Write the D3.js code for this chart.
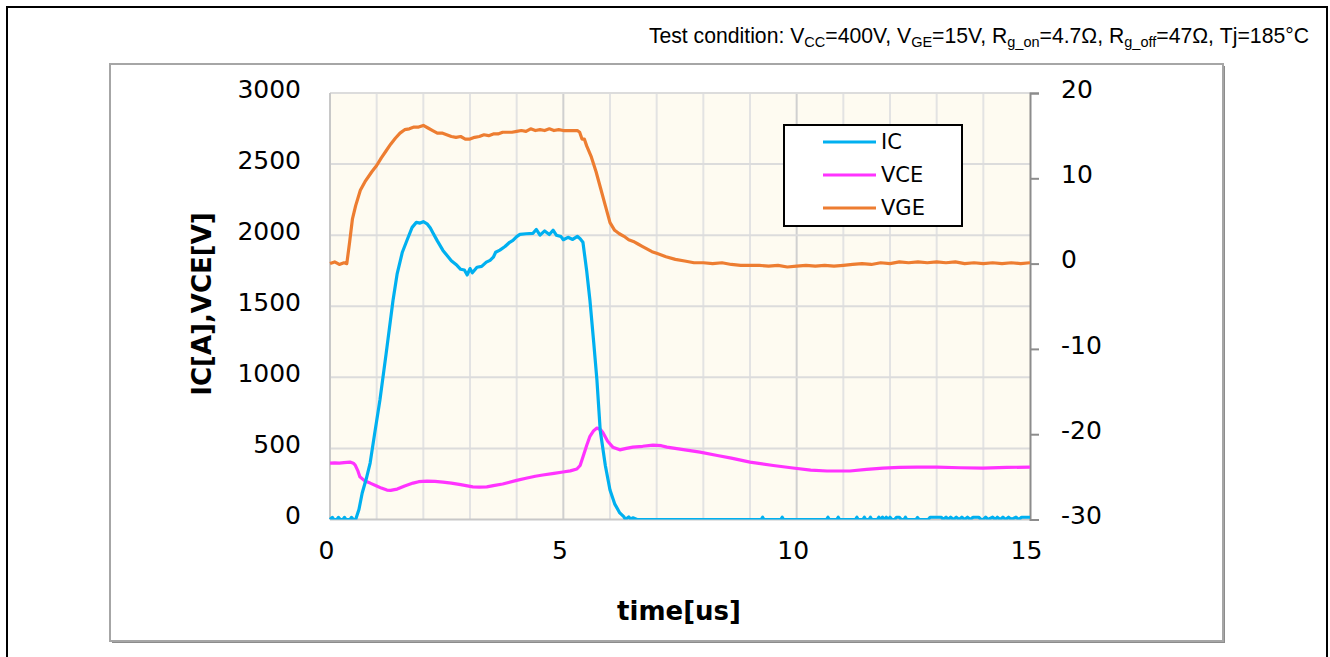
<!DOCTYPE html>
<html>
<head>
<meta charset="utf-8">
<script src="https://cdn.jsdelivr.net/npm/d3@7"></script>
<style>
  html, body { margin: 0; padding: 0; background: #fff; }
  svg { display: block; }
</style>
</head>
<body>
<svg id="chart" width="1330" height="657"></svg>
<script>
// ---------- data ----------
const xTicks = [0, 5, 10, 15];
const leftTicks = [0, 500, 1000, 1500, 2000, 2500, 3000];
const rightTicks = [-30, -20, -10, 0, 10, 20];
const seriesNames = ["IC", "VCE", "VGE"];

// IC [time us, A]
const icData = [
  [0,0],[0.05,15],[0.08,0],[0.15,0],[0.18,15],[0.22,0],[0.28,0],[0.31,15],[0.34,0],[0.43,0],[0.46,15],[0.5,0],[0.55,0],
  [0.62,70],[0.69,186],[0.78,290],[0.86,397],[0.95,590],[1.07,840],[1.2,1160],[1.35,1540],[1.44,1730],[1.55,1880],
  [1.65,1964],[1.76,2055],[1.85,2090],[1.93,2085],[2.0,2095],[2.08,2080],[2.15,2050],[2.21,2013],[2.3,1960],
  [2.42,1893],[2.5,1860],[2.6,1820],[2.72,1788],[2.8,1760],[2.88,1755],[2.94,1720],[3.0,1765],[3.05,1735],
  [3.15,1774],[3.25,1780],[3.35,1810],[3.43,1823],[3.5,1845],[3.55,1880],[3.64,1895],[3.75,1920],[3.85,1950],
  [3.92,1964],[4.0,1990],[4.07,2006],[4.2,2010],[4.35,2013],[4.42,2040],[4.5,2000],[4.6,2030],[4.7,2005],
  [4.78,2035],[4.85,2000],[4.95,1990],[5.0,1968],[5.1,1985],[5.2,1970],[5.3,1992],[5.36,1975],[5.42,1950],
  [5.5,1750],[5.57,1542],[5.65,1250],[5.72,980],[5.79,628],[5.9,380],[6.0,207],[6.1,110],[6.21,46],[6.3,18],
  [6.33,0],[6.4,18],[6.45,0],[6.49,12],[6.58,0],
  [9.24,0],[9.27,16],[9.3,0],[9.66,0],[9.69,16],[9.72,0],[10.64,0],[10.67,16],[10.7,0],[10.86,0],[10.89,16],[10.92,0],
  [11.26,0],[11.29,16],[11.32,0],[11.42,0],[11.45,16],[11.48,0],[11.55,0],[11.58,16],[11.61,0],[11.73,0],[11.76,16],
  [11.79,0],[11.84,16],[11.88,0],[11.92,16],[11.96,0],[12.0,16],[12.04,0],[12.1,0],[12.14,16],[12.2,16],[12.24,0],
  [12.3,0],[12.33,16],[12.36,0],[12.56,0],[12.59,14],[12.62,0],[12.82,0],[12.86,16],[13.1,16],[13.14,0],[13.2,16],
  [13.25,0],[13.3,16],[13.36,0],[13.42,16],[13.48,0],[13.54,16],[13.6,0],[13.66,16],[13.72,0],[13.78,16],[13.9,16],
  [13.95,0],[14.0,0],[14.05,16],[14.1,0],[14.2,16],[14.26,0],[14.3,16],[14.36,0],[14.42,16],[14.48,0],[14.54,16],
  [14.6,0],[14.7,16],[14.76,0],[14.82,16],[14.9,16],[15.0,16]
];

// VCE [time us, V]
const vceData = [
  [0,397],[0.1,398],[0.2,396],[0.3,400],[0.43,404],[0.5,396],[0.54,383],[0.6,340],[0.64,300],[0.75,270],
  [0.86,256],[1.0,236],[1.1,221],[1.22,207],[1.3,205],[1.38,210],[1.44,214],[1.6,236],[1.78,256],[1.9,266],
  [2.08,270],[2.25,268],[2.42,263],[2.6,256],[2.8,245],[3.06,230],[3.2,228],[3.36,230],[3.5,238],[3.7,250],
  [4.0,275],[4.2,290],[4.4,304],[4.56,313],[4.8,325],[4.99,334],[5.15,342],[5.29,355],[5.36,380],[5.42,440],
  [5.5,520],[5.57,585],[5.65,625],[5.72,643],[5.8,632],[5.85,610],[5.95,550],[6.06,509],[6.21,490],[6.35,500],
  [6.49,509],[6.7,515],[6.92,523],[7.1,519],[7.22,509],[7.5,495],[7.93,474],[8.3,450],[8.6,432],[9.0,404],
  [9.5,380],[9.92,362],[10.3,347],[10.65,341],[11.14,341],[11.5,352],[11.85,362],[12.2,366],[12.58,369],
  [13.0,368],[13.5,364],[13.99,362],[14.5,366],[15.0,369]
];

// VGE [time us, V]
const vgeData = [
  [0,0],[0.1,0.2],[0.2,-0.1],[0.3,0.1],[0.36,0],[0.42,2.5],[0.48,5.2],[0.55,6.8],[0.65,8.6],[0.75,9.6],
  [0.9,10.8],[1.0,11.5],[1.1,12.4],[1.2,13.2],[1.3,14.0],[1.4,14.7],[1.5,15.3],[1.6,15.7],[1.7,15.8],[1.8,16.0],
  [1.9,16.0],[2.0,16.2],[2.1,15.9],[2.2,15.6],[2.3,15.3],[2.4,15.3],[2.5,15.1],[2.6,14.9],[2.7,14.8],[2.8,14.9],
  [2.9,14.6],[3.0,14.6],[3.1,14.8],[3.2,14.9],[3.3,15.1],[3.4,15.0],[3.5,15.2],[3.6,15.2],[3.7,15.4],[3.8,15.4],
  [3.9,15.4],[4.0,15.5],[4.1,15.6],[4.2,15.5],[4.3,15.8],[4.4,15.6],[4.5,15.7],[4.6,15.6],[4.7,15.8],[4.8,15.6],
  [4.9,15.7],[5.0,15.6],[5.1,15.6],[5.2,15.6],[5.3,15.6],[5.35,15.4],[5.4,14.6],[5.45,14.6],[5.5,13.8],
  [5.6,12.5],[5.7,10.8],[5.8,8.8],[5.9,6.8],[6.0,4.8],[6.1,3.9],[6.2,3.5],[6.3,3.2],[6.4,2.8],[6.5,2.6],
  [6.6,2.3],[6.7,2.0],[6.8,1.7],[6.9,1.4],[7.0,1.2],[7.2,0.8],[7.4,0.5],[7.6,0.3],[7.8,0.1],[8.0,0.1],
  [8.2,0.0],[8.4,0.1],[8.6,-0.1],[8.8,-0.2],[9.0,-0.2],[9.2,-0.2],[9.4,-0.3],[9.6,-0.2],[9.8,-0.4],[10.0,-0.3],
  [10.2,-0.2],[10.4,-0.3],[10.6,-0.2],[10.8,-0.3],[11.0,-0.2],[11.2,-0.1],[11.4,0.0],[11.6,-0.1],[11.8,0.1],
  [12.0,0.0],[12.2,0.2],[12.4,0.1],[12.6,0.2],[12.8,0.1],[13.0,0.2],[13.2,0.1],[13.4,0.2],[13.6,0.0],[13.8,0.1],
  [14.0,0.0],[14.2,0.1],[14.4,0.0],[14.6,0.1],[14.8,0.0],[15.0,0.1]
];

// ---------- layout ----------
const svg = d3.select("#chart");
const plot = { left: 330, right: 1030, top: 93, bottom: 519.5 };
const colors = { IC: "#00B0F0", VCE: "#FF33FF", VGE: "#ED7D31" };

const x = d3.scaleLinear().domain([0, 15]).range([plot.left, plot.right]);
const yL = d3.scaleLinear().domain([0, 3000]).range([plot.bottom, plot.top]);
const yR = d3.scaleLinear().domain([-30, 20]).range([plot.bottom, plot.top]);
const fmt = d => String(d);

// outer frame
svg.append("rect").attr("x", 7).attr("y", 7).attr("width", 1320).attr("height", 670)
  .attr("fill", "none").attr("stroke", "#000").attr("stroke-width", 2);

// chart box with shadow
svg.append("rect").attr("x", 112).attr("y", 66).attr("width", 1113).attr("height", 577)
  .attr("fill", "#8c8c8c");
svg.append("rect").attr("x", 110).attr("y", 64).attr("width", 1113).attr("height", 577)
  .attr("fill", "#fff").attr("stroke", "#a6a6a6").attr("stroke-width", 2);

// test condition
const tc = svg.append("text").attr("x", 1309).attr("y", 43).attr("text-anchor", "end")
  .attr("font-family", "Liberation Sans, Arial, sans-serif").attr("font-size", 21.2).attr("fill", "#000");
const parts = [["Test condition: V",0],["CC",1],["=400V, V",0],["GE",1],["=15V, R",0],["g_on",1],["=4.7Ω, R",0],["g_off",1],["=47Ω, Tj=185°C",0]];
parts.forEach(([s, sub]) => {
  const t = tc.append("tspan").text(s);
  if (sub) t.attr("font-size", 14.5).attr("baseline-shift", "-4");
});

// plot background
svg.append("rect").attr("x", plot.left).attr("y", plot.top)
  .attr("width", plot.right - plot.left).attr("height", plot.bottom - plot.top)
  .attr("fill", "#FEFBF1");

// grid
const g = svg.append("g");
d3.range(1, 15).forEach(v => {
  g.append("line").attr("x1", x(v)).attr("x2", x(v)).attr("y1", plot.top).attr("y2", plot.bottom)
    .attr("stroke", v % 5 === 0 ? "#d0d0d0" : "#e3e3e3").attr("stroke-width", 2);
});
leftTicks.slice(1).forEach(v => {
  g.append("line").attr("x1", plot.left).attr("x2", plot.right).attr("y1", yL(v)).attr("y2", yL(v))
    .attr("stroke", "#dcdcdc").attr("stroke-width", 2);
});
g.append("line").attr("x1", plot.left).attr("x2", plot.left).attr("y1", plot.top).attr("y2", plot.bottom)
  .attr("stroke", "#c8c8c8").attr("stroke-width", 2);
g.append("line").attr("x1", plot.left).attr("x2", plot.right).attr("y1", plot.bottom).attr("y2", plot.bottom)
  .attr("stroke", "#c8c8c8").attr("stroke-width", 2);

// axes
const tickFont = "DejaVu Sans, Verdana, sans-serif";
const axL = svg.append("g").attr("transform", `translate(${plot.left},0)`)
  .call(d3.axisLeft(yL).tickValues(leftTicks).tickSize(0).tickPadding(29).tickFormat(fmt));
axL.select(".domain").remove();
axL.selectAll("text").attr("font-family", tickFont).attr("font-size", 25).attr("fill", "#000").attr("dy", "0.17em");

const axR = svg.append("g").attr("transform", `translate(${plot.right},0)`)
  .call(d3.axisRight(yR).tickValues(rightTicks).tickSize(9).tickPadding(22).tickFormat(fmt));
axR.select(".domain").attr("stroke", "#8c8c8c").attr("stroke-width", 2);
axR.selectAll("line").attr("stroke", "#8c8c8c").attr("stroke-width", 2);
axR.selectAll("text").attr("font-family", tickFont).attr("font-size", 25).attr("fill", "#000").attr("dy", "0.17em");

const axB = svg.append("g").attr("transform", `translate(-4,${plot.bottom})`)
  .call(d3.axisBottom(x).tickValues(xTicks).tickSize(0).tickPadding(22).tickFormat(fmt));
axB.select(".domain").remove();
axB.selectAll("text").attr("font-family", tickFont).attr("font-size", 25).attr("fill", "#000");

// axis titles
svg.append("text").attr("transform", "translate(211,304) rotate(-90)").attr("text-anchor", "middle")
  .attr("font-family", tickFont).attr("font-weight", "bold").attr("font-size", 26).attr("fill", "#000")
  .text("IC[A],VCE[V]");
svg.append("text").attr("x", 679).attr("y", 620).attr("text-anchor", "middle")
  .attr("font-family", tickFont).attr("font-weight", "bold").attr("font-size", 26).attr("fill", "#000")
  .text("time[us]");

// lines
svg.append("clipPath").attr("id", "clip").append("rect")
  .attr("x", plot.left - 2).attr("y", plot.top - 2).attr("width", plot.right - plot.left + 2).attr("height", plot.bottom - plot.top + 2);
const lineL = d3.line().x(d => x(d[0])).y(d => yL(d[1]));
const lineR = d3.line().x(d => x(d[0])).y(d => yR(d[1]));
const lg = svg.append("g").attr("clip-path", "url(#clip)");
lg.append("path").datum(vgeData).attr("d", lineR).attr("fill", "none").attr("stroke", colors.VGE)
  .attr("stroke-width", 3.2).attr("stroke-linejoin", "round");
lg.append("path").datum(vceData).attr("d", lineL).attr("fill", "none").attr("stroke", colors.VCE)
  .attr("stroke-width", 3.2).attr("stroke-linejoin", "round");
lg.append("path").datum(icData).attr("d", lineL).attr("fill", "none").attr("stroke", colors.IC)
  .attr("stroke-width", 3.2).attr("stroke-linejoin", "round");

// legend
const leg = svg.append("g");
leg.append("rect").attr("x", 784).attr("y", 125).attr("width", 178).attr("height", 101)
  .attr("fill", "#fff").attr("stroke", "#000").attr("stroke-width", 2);
seriesNames.forEach((n, i) => {
  const yy = 142 + i * 33;
  leg.append("line").attr("x1", 823).attr("x2", 876).attr("y1", yy).attr("y2", yy)
    .attr("stroke", colors[n]).attr("stroke-width", 3.2);
  leg.append("text").attr("x", 881).attr("y", yy).attr("dy", "0.35em")
    .attr("font-family", tickFont).attr("font-size", 21).attr("fill", "#000").text(n);
});
</script>
</body>
</html>
